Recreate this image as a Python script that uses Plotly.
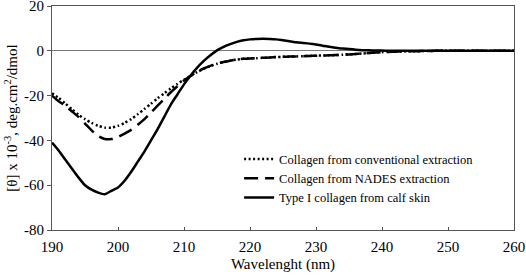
import plotly.graph_objects as go

wavelength = list(range(190, 261))

conventional = [-19, -21, -23.5, -26, -28.5, -30.5, -32.2, -33.5, -34.3, -34.3,
                -33.5, -32.2, -30.5, -28.3, -26, -23.6, -21.2, -19, -16.8, -14.8,
                -12.9, -11.2, -9.5, -8, -6.8, -5.8, -5, -4.4, -3.9, -3.6,
                -3.4, -3.3, -3.1, -3.0, -2.8, -2.7, -2.6, -2.5, -2.4, -2.3,
                -2.2, -2.1, -2.0, -1.9, -1.8, -1.6, -1.4, -1.2, -1.0, -0.8,
                -0.6, -0.5, -0.4, -0.3, -0.2, -0.2, -0.1, -0.1, 0, 0,
                0, 0, 0, 0, 0, 0, 0, 0, 0, 0, 0]

nades = [-20, -22.5, -24.5, -27, -29.5, -32.5, -35.5, -38, -39.4, -39.4,
         -38.5, -37, -35.3, -33, -30.5, -27.5, -24.5, -21.5, -18.5, -15.8,
         -13.3, -11.2, -9.3, -7.9, -6.7, -5.7, -5, -4.4, -3.9, -3.6,
         -3.4, -3.3, -3.1, -3.0, -2.8, -2.7, -2.6, -2.5, -2.4, -2.3,
         -2.2, -2.1, -2.0, -1.9, -1.8, -1.6, -1.4, -1.2, -1.0, -0.8,
         -0.6, -0.5, -0.4, -0.3, -0.2, -0.2, -0.1, -0.1, 0, 0,
         0, 0, 0, 0, 0, 0, 0, 0, 0, 0, 0]

calf_skin = [-41, -44.5, -48.5, -52.5, -56.5, -60, -62, -63.3, -64, -62.5,
             -61, -58, -54, -49.5, -45, -40, -35, -29.5, -24, -19.5,
             -15, -11, -7.5, -4.5, -2, 0.2, 1.8, 3.0, 4.0, 4.7,
             5.1, 5.3, 5.4, 5.3, 5.1, 4.7, 4.3, 3.8, 3.5, 3.2,
             2.8, 2.3, 1.8, 1.4, 1.0, 0.8, 0.5, 0.3, 0.2, 0.15,
             0.1, 0.05, 0, 0, 0, 0, 0, 0, 0, 0,
             0, 0, 0, 0, 0, 0, 0, 0, 0, 0, 0]

series_names = ["Collagen from conventional extraction",
                "Collagen from NADES extraction",
                "Type I collagen from calf skin"]

x_ticks = [190, 200, 210, 220, 230, 240, 250, 260]
y_ticks = [20, 0, -20, -40, -60, -80]
y_ticklabels = ["20", "0", "-20", "-40", "-60", "-80"]

font_family = "Liberation Serif, Times New Roman, serif"

fig = go.Figure()
fig.add_trace(go.Scatter(x=wavelength, y=conventional, mode="lines", name=series_names[0],
                         line=dict(color="black", width=2.5, dash="2px,2.5px", shape="spline", smoothing=0.6)))
fig.add_trace(go.Scatter(x=wavelength, y=nades, mode="lines", name=series_names[1],
                         line=dict(color="black", width=2.5, dash="14px,7px", shape="spline", smoothing=0.6)))
fig.add_trace(go.Scatter(x=wavelength, y=calf_skin, mode="lines", name=series_names[2],
                         line=dict(color="black", width=2.5, shape="spline", smoothing=0.6)))

fig.update_layout(
    width=526, height=278,
    margin=dict(l=52, r=12, t=6, b=48),
    paper_bgcolor="white", plot_bgcolor="white",
    font=dict(family=font_family, color="black", size=15),
    showlegend=True,
    legend=dict(x=0.405, y=0.382, xanchor="left", yanchor="top",
                bgcolor="rgba(0,0,0,0)", borderwidth=0,
                font=dict(family=font_family, size=12.5, color="black"),
                itemwidth=30, tracegroupgap=0),
    xaxis=dict(range=[190, 260], tickvals=x_ticks, ticks="inside", ticklen=3,
               tickcolor="#555", showline=True, linecolor="#555", linewidth=1.2,
               mirror=True, showgrid=False, zeroline=False, automargin=False,
               tickfont=dict(size=15), ticklabelstandoff=3, ticklabeloverflow="allow",
               title=dict(text="Wavelenght (nm)", font=dict(size=15), standoff=4)),
    yaxis=dict(range=[-80, 20], tickvals=y_ticks, ticktext=y_ticklabels,
               ticks="outside", ticklen=4, tickcolor="#555",
               showline=True, linecolor="#555", linewidth=1.2, mirror=True,
               showgrid=False, zeroline=True, zerolinecolor="#777", zerolinewidth=1,
               automargin=False, ticklabeloverflow="allow",
               tickfont=dict(size=15),
               title=dict(text="[θ] x 10<sup>-3</sup>, deg.cm<sup>2</sup>/dmol",
                          font=dict(size=15), standoff=2)),
)

fig.write_html("out.html", config={"displayModeBar": False},
               post_script="document.body.style.margin='0';document.body.style.padding='0';")
